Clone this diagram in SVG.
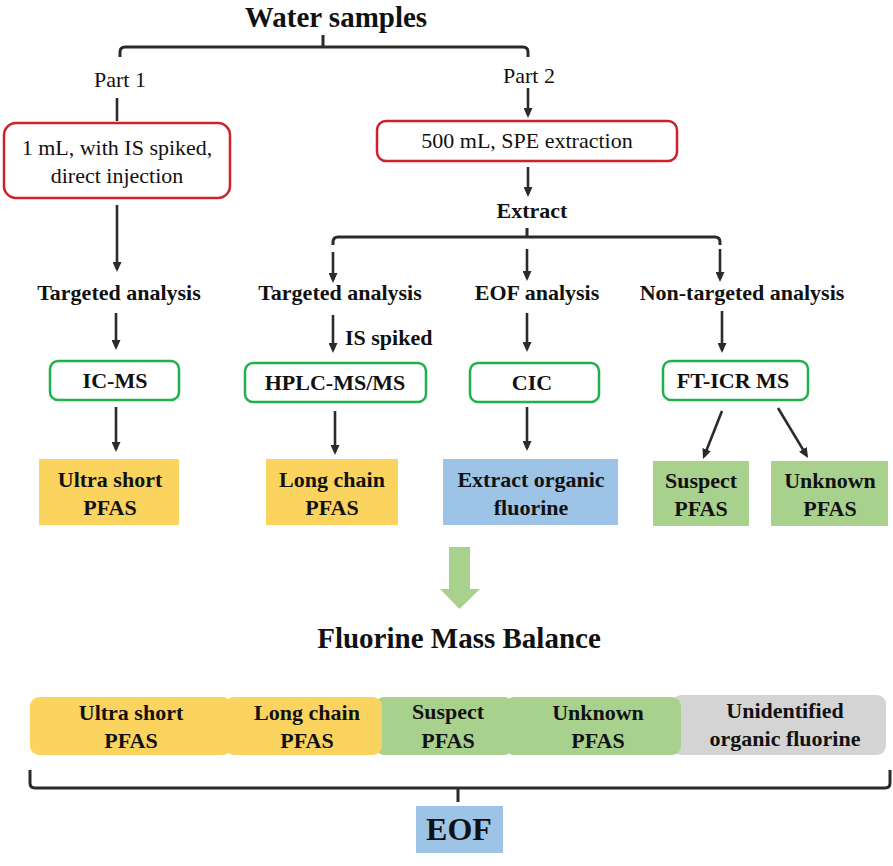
<svg xmlns="http://www.w3.org/2000/svg" width="893" height="866" viewBox="0 0 893 866">
<style>
.ln{stroke:#2b2b2b;stroke-width:2.6;fill:none}
.br{stroke:#2b2b2b;stroke-width:3;fill:none}
.red{fill:#fff;stroke:#d0202a;stroke-width:2.5}
.grn{fill:#fff;stroke:#22b04b;stroke-width:2.5}
.yel{fill:#fbd35f}
.blu{fill:#9dc3e6}
.gre{fill:#a9d18e}
.gry{fill:#d4d4d4}
</style>
<defs>
<marker id="ah" markerUnits="userSpaceOnUse" viewBox="0 0 10 9" markerWidth="10" markerHeight="9" refX="7" refY="4.5" orient="auto">
<path d="M0,0 L10,4.5 L0,9 z" fill="#2b2b2b"/>
</marker>
</defs>

<g id="title"><text x="336" y="27" text-anchor="middle" fill="#111" font-family="Liberation Serif" font-size="29" font-weight="bold">Water samples</text></g>

<g id="part1"><text x="120" y="87" text-anchor="middle" fill="#111" font-family="Liberation Serif" font-size="22">Part 1</text></g>
<g id="part2"><text x="529" y="83" text-anchor="middle" fill="#111" font-family="Liberation Serif" font-size="22">Part 2</text></g>

<g id="box-direct">
<rect class="red" x="4" y="123" width="226" height="75" rx="12"/>
<text x="117" y="155" text-anchor="middle" fill="#111" font-family="Liberation Serif" font-size="22">1 mL, with IS spiked,</text>
<text x="117" y="183" text-anchor="middle" fill="#111" font-family="Liberation Serif" font-size="22">direct injection</text>
</g>
<g id="box-spe">
<rect class="red" x="377" y="121" width="300" height="40" rx="9"/>
<text x="527" y="148" text-anchor="middle" fill="#111" font-family="Liberation Serif" font-size="22">500 mL, SPE extraction</text>
</g>
<g id="extract"><text x="532" y="218" text-anchor="middle" fill="#111" font-family="Liberation Serif" font-size="22" font-weight="bold">Extract</text></g>

<g id="ta1"><text x="119" y="300" text-anchor="middle" fill="#111" font-family="Liberation Serif" font-size="22" font-weight="bold">Targeted analysis</text></g>
<g id="ta2"><text x="340" y="300" text-anchor="middle" fill="#111" font-family="Liberation Serif" font-size="22" font-weight="bold">Targeted analysis</text></g>
<g id="eofa"><text x="537" y="300" text-anchor="middle" fill="#111" font-family="Liberation Serif" font-size="22" font-weight="bold">EOF analysis</text></g>
<g id="nta"><text x="742" y="300" text-anchor="middle" fill="#111" font-family="Liberation Serif" font-size="22" font-weight="bold">Non-targeted analysis</text></g>
<g id="isspiked"><text x="345" y="345" fill="#111" font-family="Liberation Serif" font-size="22" font-weight="bold">IS spiked</text></g>

<g id="icms"><rect class="grn" x="50" y="361" width="129" height="39" rx="8"/><text x="115" y="388" text-anchor="middle" fill="#111" font-family="Liberation Serif" font-size="22" font-weight="bold">IC-MS</text></g>
<g id="hplc"><rect class="grn" x="245" y="363" width="181" height="39" rx="8"/><text x="335" y="390" text-anchor="middle" fill="#111" font-family="Liberation Serif" font-size="22" font-weight="bold">HPLC-MS/MS</text></g>
<g id="cic"><rect class="grn" x="470" y="363" width="129" height="39" rx="8"/><text x="532" y="390" text-anchor="middle" fill="#111" font-family="Liberation Serif" font-size="22" font-weight="bold">CIC</text></g>
<g id="fticr"><rect class="grn" x="663" y="361" width="145" height="39" rx="8"/><text x="733" y="388" text-anchor="middle" fill="#111" font-family="Liberation Serif" font-size="22" font-weight="bold">FT-ICR MS</text></g>

<g id="res-ultra"><rect class="yel" x="39" y="459" width="140" height="66"/><text x="110" y="487" text-anchor="middle" fill="#111" font-family="Liberation Serif" font-size="22" font-weight="bold">Ultra short</text><text x="110" y="515" text-anchor="middle" fill="#111" font-family="Liberation Serif" font-size="22" font-weight="bold">PFAS</text></g>
<g id="res-long"><rect class="yel" x="266" y="459" width="132" height="66"/><text x="332" y="487" text-anchor="middle" fill="#111" font-family="Liberation Serif" font-size="22" font-weight="bold">Long chain</text><text x="332" y="515" text-anchor="middle" fill="#111" font-family="Liberation Serif" font-size="22" font-weight="bold">PFAS</text></g>
<g id="res-eof"><rect class="blu" x="443" y="459" width="175" height="66"/><text x="531" y="487" text-anchor="middle" fill="#111" font-family="Liberation Serif" font-size="22" font-weight="bold">Extract organic</text><text x="531" y="515" text-anchor="middle" fill="#111" font-family="Liberation Serif" font-size="22" font-weight="bold">fluorine</text></g>
<g id="res-suspect"><rect class="gre" x="653" y="461" width="96" height="65"/><text x="701" y="488" text-anchor="middle" fill="#111" font-family="Liberation Serif" font-size="22" font-weight="bold">Suspect</text><text x="701" y="516" text-anchor="middle" fill="#111" font-family="Liberation Serif" font-size="22" font-weight="bold">PFAS</text></g>
<g id="res-unknown"><rect class="gre" x="771" y="461" width="117" height="65"/><text x="830" y="488" text-anchor="middle" fill="#111" font-family="Liberation Serif" font-size="22" font-weight="bold">Unknown</text><text x="830" y="516" text-anchor="middle" fill="#111" font-family="Liberation Serif" font-size="22" font-weight="bold">PFAS</text></g>

<g id="big-arrow"><path d="M449,547 H470 V589 H480 L459.5,609 L440,589 H449 Z" fill="#a9d18e"/></g>

<g id="fmb"><text x="459" y="648" text-anchor="middle" fill="#111" font-family="Liberation Serif" font-size="29" font-weight="bold">Fluorine Mass Balance</text></g>

<g id="bar">
<rect class="gry" x="672" y="695" width="214" height="60" rx="9"/>
<rect class="gre" x="505" y="697" width="176" height="58" rx="9"/>
<rect class="gre" x="375" y="697" width="138" height="58" rx="9"/>
<rect class="yel" x="225" y="697" width="157" height="58" rx="9"/>
<rect class="yel" x="30" y="697" width="202" height="58" rx="9"/>
<g text-anchor="middle" fill="#111" font-family="Liberation Serif" font-size="22" font-weight="bold">
<text x="131" y="720" font-family="Liberation Serif">Ultra short</text><text x="131" y="748" font-family="Liberation Serif">PFAS</text>
<text x="307" y="720" font-family="Liberation Serif">Long chain</text><text x="307" y="748" font-family="Liberation Serif">PFAS</text>
<text x="448" y="719" font-family="Liberation Serif">Suspect</text><text x="448" y="748" font-family="Liberation Serif">PFAS</text>
<text x="598" y="720" font-family="Liberation Serif">Unknown</text><text x="598" y="748" font-family="Liberation Serif">PFAS</text>
<text x="785" y="718" font-family="Liberation Serif">Unidentified</text><text x="785" y="746" font-family="Liberation Serif">organic fluorine</text>
</g>
</g>

<g id="eof"><rect class="blu" x="416" y="806" width="87" height="47"/><text x="459" y="840" text-anchor="middle" fill="#111" font-family="Liberation Serif" font-size="32" font-weight="bold">EOF</text></g>

<g id="connectors" stroke="#2b2b2b" stroke-width="2.6" fill="none">
<path class="br" d="M323,35 V47 M120,57 V52 Q120,47 125,47 H523 Q528,47 528,52 V57"/>
<line class="ln" x1="117" y1="98" x2="117" y2="121"/>
<g marker-end="url(#ah)">
<line x1="117" y1="205" x2="117" y2="269"/>
<line x1="528" y1="88" x2="528" y2="115"/>
<line x1="528" y1="167" x2="528" y2="194"/>
<line x1="333" y1="252" x2="333" y2="280"/>
<line x1="527" y1="249" x2="527" y2="278"/>
<line x1="720" y1="249" x2="720" y2="279"/>
<line x1="116" y1="313" x2="116" y2="347"/>
<line x1="333" y1="315" x2="333" y2="350"/>
<line x1="527" y1="313" x2="527" y2="349"/>
<line x1="722" y1="311" x2="722" y2="350"/>
<line x1="116" y1="407" x2="116" y2="449"/>
<line x1="335" y1="411" x2="335" y2="452"/>
<line x1="527" y1="407" x2="527" y2="448"/>
<line x1="722" y1="411" x2="704.1" y2="456.2"/>
<line x1="778" y1="408" x2="806.5" y2="455.4"/>
</g>
<path class="br" d="M527,228 V237 M333,245 V242 Q333,237 338,237 H715 Q720,237 720,242 V245"/>
<path class="br" d="M30,770 V783 Q30,788 35,788 H885 Q890,788 890,783 V770 M458,788 V802"/>
</g>
</svg>
